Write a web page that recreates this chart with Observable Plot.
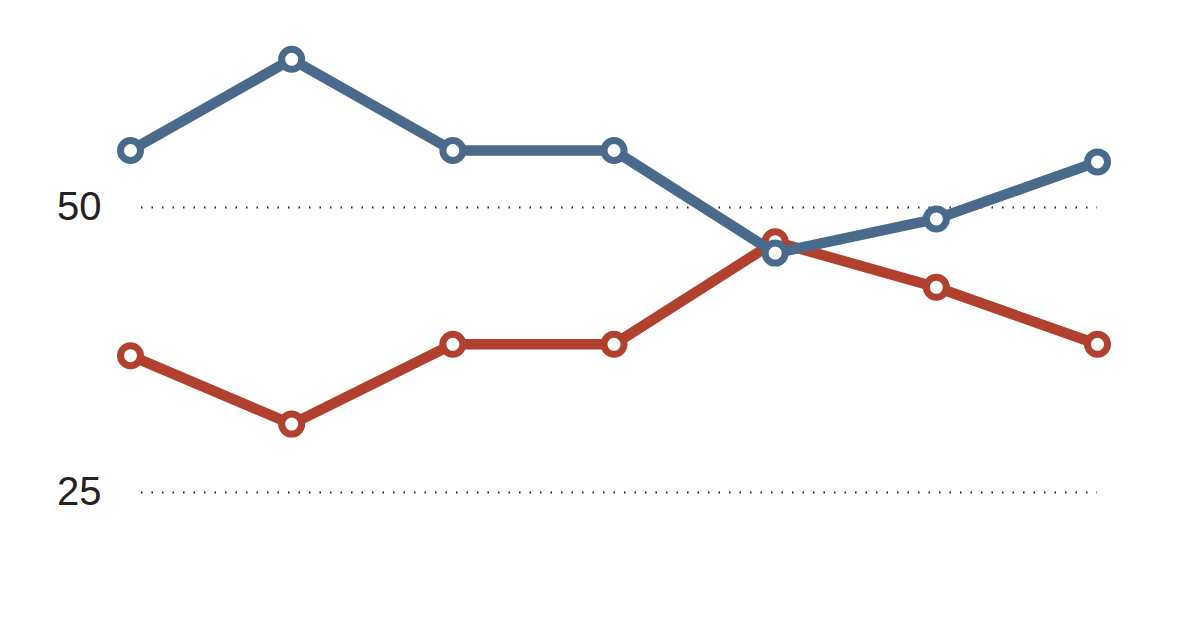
<!DOCTYPE html>
<html>
<head>
<meta charset="utf-8">
<script src="https://cdn.jsdelivr.net/npm/d3@7"></script>
<script src="https://cdn.jsdelivr.net/npm/@observablehq/plot@0.6"></script>
<style>
  html, body { margin: 0; padding: 0; background: #fff; }
  #chart { width: 1200px; height: 628px; }
</style>
</head>
<body>
<div id="chart"></div>
<script>
const periods = [0, 1, 2, 3, 4, 5, 6];
const blueValues = [55, 63, 55, 55, 46, 49, 54];
const redValues = [37, 31, 38, 38, 47, 43, 38];
const yTicks = [25, 50];

const blueColor = "#4a6a8b";
const redColor = "#b2402f";

const blue = periods.map((p, i) => ({p, v: blueValues[i]}));
const red = periods.map((p, i) => ({p, v: redValues[i]}));

const chart = Plot.plot({
  width: 1200,
  height: 628,
  marginLeft: 130,
  marginRight: 103,
  marginTop: 0,
  marginBottom: 0,
  style: {fontFamily: "'Liberation Sans', Arial, sans-serif", background: "#fff"},
  x: {domain: [0, 6], axis: null},
  y: {domain: [25, 50], range: [492, 207], axis: null},
  marks: [
    Plot.ruleY(yTicks, {stroke: "#222", strokeWidth: 2.2, strokeDasharray: "1.5,9", insetLeft: 11}),
    Plot.axisY(yTicks, {tickSize: 0, tickPadding: 29, fontSize: 40, fill: "#222", label: null}),
    Plot.line(red, {x: "p", y: "v", stroke: redColor, strokeWidth: 10.5, strokeLinejoin: "round", strokeLinecap: "round"}),
    Plot.dot(red, {x: "p", y: "v", r: 10, fill: "#fff", stroke: redColor, strokeWidth: 7}),
    Plot.line(blue, {x: "p", y: "v", stroke: blueColor, strokeWidth: 10.5, strokeLinejoin: "round", strokeLinecap: "round"}),
    Plot.dot(blue, {x: "p", y: "v", r: 10, fill: "#fff", stroke: blueColor, strokeWidth: 7})
  ]
});
document.getElementById("chart").appendChild(chart);
</script>
</body>
</html>
